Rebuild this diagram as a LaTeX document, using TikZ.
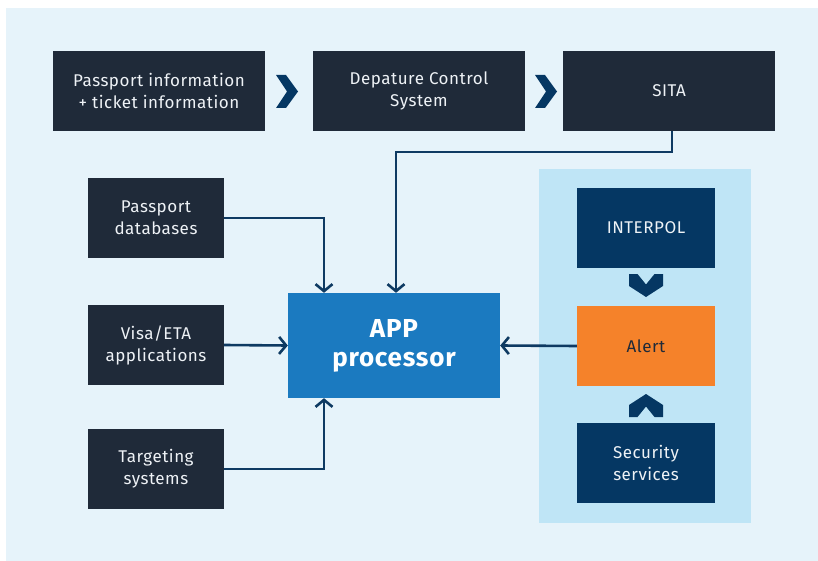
\documentclass[tikz,border=0pt]{standalone}
\usepackage{fontspec}
\setmainfont{Fira Sans}[LetterSpace=3]
\usetikzlibrary{arrows.meta}
\definecolor{panel}{HTML}{E6F3FA}
\definecolor{lightpanel}{HTML}{BFE5F6}
\definecolor{darkbox}{HTML}{1F2A39}
\definecolor{navy}{HTML}{053763}
\definecolor{appblue}{HTML}{1B7AC0}
\definecolor{alertorange}{HTML}{F5822A}
\definecolor{linecol}{HTML}{0E3A62}
\definecolor{txtwhite}{HTML}{EEF2F6}
\tikzset{
  box/.style={fill=darkbox, text=txtwhite, align=center, inner sep=0pt,
    font=\fontsize{17}{22}\selectfont},
  topbox/.style={box, minimum width=212pt, minimum height=80pt},
  leftbox/.style={box, minimum width=136pt, minimum height=80pt},
  sidebox/.style={box, fill=navy, minimum width=138pt, minimum height=80pt},
  arr/.style={draw=linecol, line width=2.6pt, -{Straight Barb[length=7pt,width=17pt,line width=2.6pt]}},
  chev/.style={fill=navy, draw=none},
}
\begin{document}
\begin{tikzpicture}[x=1pt,y=-1pt]
\useasboundingbox (0,0) rectangle (818,561);
\fill[white] (0,0) rectangle (818,561);
\fill[panel] (6,8) rectangle (818,561);
\fill[lightpanel] (539,169) rectangle (751,523);

% top row
\node[topbox] (pp) at (159,91) {Passport information\\+ ticket information};
\node[topbox] (dcs) at (419,91) {Depature Control\\System};
\node[topbox] (sita) at (669,91) {SITA};

% chevrons
\fill[chev] (276,75) -- (286,75) -- (298,91.5) -- (286,108) -- (276,108) -- (287,91.5) -- cycle;
\fill[chev] (535,75) -- (545,75) -- (557,91.5) -- (545,108) -- (535,108) -- (546,91.5) -- cycle;

% left boxes
\node[leftbox] (pdb) at (156,218) {Passport\\databases};
\node[leftbox] (visa) at (156,345) {Visa/ETA\\applications};
\node[leftbox] (tgt) at (156,469) {Targeting\\systems};

% APP processor
\node[fill=appblue, text=white, align=center, minimum width=212pt, minimum height=105pt,
  inner sep=0pt, font=\fontsize{26}{29}\selectfont\bfseries] (app) at (394,345.5) {APP\\processor};

% right panel boxes
\node[sidebox] (interpol) at (646,228) {INTERPOL};
\node[sidebox, fill=alertorange, text=darkbox] (alert) at (646,346) {Alert};
\node[sidebox] (sec) at (646,463) {Security\\services};

% vertical chevrons
\fill[chev] (629,274) -- (637.5,274) -- (646,284.5) -- (654.5,274) -- (663,274) -- (663,286) -- (646,297) -- (629,286) -- cycle;
\fill[chev] (629,417) -- (637.5,417) -- (646,406.5) -- (654.5,417) -- (663,417) -- (663,405) -- (646,394) -- (629,405) -- cycle;

% connectors
\draw[arr] ([xshift=3pt]sita.south) -- ++(0,21) -| ([xshift=2pt]app.north);
\draw[arr] (pdb.east) -| ([xshift=-70pt]app.north);
\draw[arr] (visa.east) -- (app.west);
\draw[arr] (tgt.east) -| ([xshift=-70pt]app.south);
\draw[arr] (alert.west) -- (app.east);
\end{tikzpicture}
\end{document}
